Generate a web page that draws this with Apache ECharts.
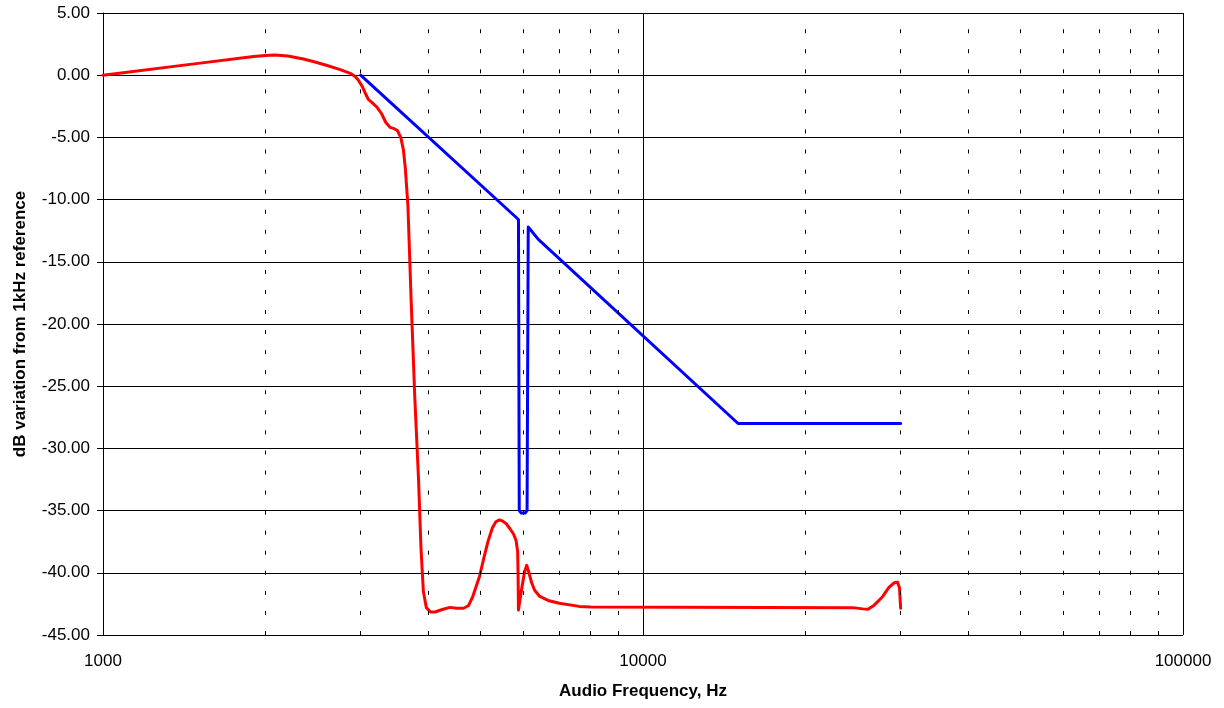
<!DOCTYPE html>
<html>
<head>
<meta charset="utf-8">
<script src="https://cdn.jsdelivr.net/npm/echarts@6/dist/echarts.min.js"></script>
<style>
  html, body { margin: 0; padding: 0; background: #fff; }
  #chart { width: 1224px; height: 708px; }
</style>
</head>
<body>
<div id="chart"></div>
<script>
// 红线：实测响应 (Hz, dB)
const redFreq = [1000, 1500, 1900, 2000, 2080, 2200, 2350, 2470, 2600, 2750, 2870, 2930, 2970, 3020, 3060, 3100, 3150, 3220, 3280, 3340, 3400, 3460, 3510, 3560, 3600, 3630, 3670, 3720, 3780, 3840, 3880, 3920, 3970, 4040, 4120, 4250, 4390, 4520, 4650, 4750, 4830, 4900, 4980, 5080, 5170, 5260, 5340, 5420, 5500, 5580, 5680, 5760, 5820, 5860, 5870, 5880, 5950, 6030, 6090, 6150, 6220, 6300, 6440, 6700, 7000, 7620, 8000, 24500, 25500, 26100, 26800, 27800, 28500, 29200, 29600, 29850, 30000];
const redDb = [0, 0.95, 1.5, 1.58, 1.62, 1.55, 1.3, 1.06, 0.78, 0.45, 0.15, -0.1, -0.39, -0.9, -1.45, -1.95, -2.2, -2.6, -3.1, -3.8, -4.19, -4.3, -4.45, -5.0, -6.0, -7.5, -10.5, -18, -26, -32.5, -38, -41.5, -42.8, -43.15, -43.15, -42.95, -42.78, -42.85, -42.85, -42.65, -42.0, -41.2, -40.3, -38.7, -37.4, -36.4, -35.9, -35.75, -35.85, -36.05, -36.5, -36.9, -37.4, -38.3, -40, -43.0, -41.5, -40.0, -39.4, -40.0, -40.8, -41.4, -41.9, -42.25, -42.45, -42.7, -42.75, -42.8, -42.9, -42.93, -42.6, -41.9, -41.2, -40.8, -40.75, -41.2, -42.85];

// 蓝线：理论曲线
const blueFreq = [3000, 5880, 5900, 5950, 6050, 6100, 6130, 6400, 15000, 30000];
const blueDb = [0, -11.6, -35.0, -35.2, -35.2, -35.0, -12.2, -13.2, -28.0, -28.0];

// 次网格线（虚线）位置
const minorGrid = [2000, 3000, 4000, 5000, 6000, 7000, 8000, 9000,
    20000, 30000, 40000, 50000, 60000, 70000, 80000, 90000];

const xMin = 1000, xMax = 100000;
const yMin = -45, yMax = 5, yStep = 5;

function toPairs(xs, ys) {
    return xs.map((x, i) => [x, ys[i]]);
}

const chart = echarts.init(document.getElementById('chart'));

const font = 'Liberation Sans, Arial, sans-serif';

const option = {
    animation: false,
    backgroundColor: '#fff',
    grid: { left: 103, right: 41, top: 13, bottom: 73 },
    xAxis: {
        type: 'log',
        logBase: 10,
        min: xMin,
        max: xMax,
        name: 'Audio Frequency, Hz',
        nameLocation: 'middle',
        nameGap: 48,
        nameTextStyle: { fontFamily: font, fontSize: 17, fontWeight: 'bold', color: '#000' },
        axisLine: { show: true, lineStyle: { color: '#000', width: 1 } },
        axisTick: { show: false },
        axisLabel: {
            fontFamily: font, fontSize: 17, color: '#000', margin: 18,
            formatter: v => String(Math.round(v))
        },
        splitLine: { show: true, lineStyle: { color: '#000', width: 1 } }
    },
    yAxis: {
        type: 'value',
        min: yMin,
        max: yMax,
        interval: yStep,
        name: 'dB variation from 1kHz reference',
        nameLocation: 'middle',
        nameGap: 74,
        nameTextStyle: { fontFamily: font, fontSize: 17, fontWeight: 'bold', color: '#000' },
        axisLine: { show: true, lineStyle: { color: '#000', width: 1 } },
        axisTick: { show: true, length: 6, lineStyle: { color: '#000' } },
        axisLabel: {
            fontFamily: font, fontSize: 17, color: '#000', margin: 13,
            formatter: v => v.toFixed(2)
        },
        splitLine: { show: true, lineStyle: { color: '#000', width: 1 } }
    },
    series: [
        {
            name: 'grid',
            type: 'line',
            data: [],
            silent: true,
            markLine: {
                silent: true,
                symbol: 'none',
                label: { show: false },
                lineStyle: { color: '#000', width: 1, type: [4, 16.06] },
                data: minorGrid.map(v => ({ xAxis: v }))
            }
        },
        {
            name: 'blue',
            type: 'line',
            data: toPairs(blueFreq, blueDb),
            showSymbol: false,
            symbol: 'none',
            lineStyle: { color: '#0000ff', width: 3, join: 'round', cap: 'round' },
            z: 3
        },
        {
            name: 'red',
            type: 'line',
            data: toPairs(redFreq, redDb),
            showSymbol: false,
            symbol: 'none',
            lineStyle: { color: '#ff0000', width: 3, join: 'round', cap: 'round' },
            z: 4
        }
    ]
};

chart.setOption(option);
</script>
</body>
</html>
